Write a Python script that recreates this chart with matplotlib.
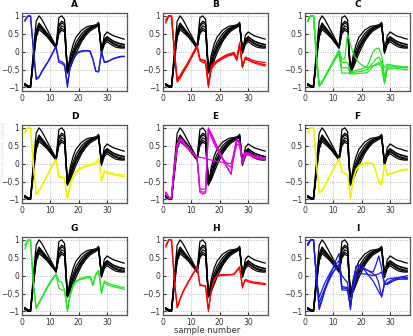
import numpy as np
import matplotlib
matplotlib.use("Agg")
import matplotlib.pyplot as plt

# sample numbers
x = np.arange(1, 37)

# reference (black) curves, shared by every panel
black_1 = [-0.90, -0.95, -0.95, 0.00, 0.85, 1.00, 0.90, 0.75, 0.60, 0.45, 0.30, 0.15, 0.95, 1.00, 0.90, -0.60, -0.10, 0.20, 0.40, 0.50, 0.60, 0.65, 0.70, 0.72, 0.73, 0.75, 0.80, 0.00, 0.45, 0.55, 0.50, 0.45, 0.42, 0.40, 0.37, 0.35]
black_2 = [-0.90, -0.95, -0.97, -0.10, 0.60, 0.80, 0.70, 0.60, 0.50, 0.38, 0.25, 0.12, 0.70, 0.80, 0.75, -0.55, -0.30, -0.05, 0.15, 0.30, 0.42, 0.52, 0.60, 0.66, 0.70, 0.72, 0.78, 0.05, 0.30, 0.40, 0.35, 0.30, 0.27, 0.24, 0.22, 0.20]
black_3 = [-0.92, -0.97, -1.00, -0.20, 0.50, 0.72, 0.65, 0.55, 0.45, 0.35, 0.22, 0.10, 0.55, 0.65, 0.60, -0.60, -0.40, -0.15, 0.05, 0.20, 0.33, 0.45, 0.55, 0.62, 0.67, 0.70, 0.75, 0.00, 0.25, 0.33, 0.28, 0.22, 0.18, 0.15, 0.13, 0.12]
black_4 = [-0.90, -0.98, -1.00, -0.30, 0.40, 0.62, 0.55, 0.48, 0.40, 0.30, 0.20, 0.10, 0.50, 0.60, 0.55, -0.58, -0.45, -0.25, -0.05, 0.12, 0.28, 0.40, 0.50, 0.58, 0.63, 0.68, 0.72, -0.05, 0.20, 0.28, 0.22, 0.17, 0.13, 0.11, 0.10, 0.10]
black_5 = [-0.95, -1.00, -0.98, -0.15, 0.55, 0.76, 0.68, 0.58, 0.48, 0.37, 0.24, 0.12, 0.75, 0.85, 0.80, -0.55, -0.20, 0.05, 0.25, 0.38, 0.50, 0.58, 0.64, 0.68, 0.71, 0.70, 0.82, 0.02, 0.35, 0.42, 0.36, 0.30, 0.26, 0.23, 0.21, 0.19]
black_6 = [-0.93, -0.97, -0.99, -0.25, 0.45, 0.68, 0.60, 0.52, 0.43, 0.33, 0.22, 0.11, 0.60, 0.72, 0.68, -0.57, -0.35, -0.10, 0.10, 0.25, 0.38, 0.48, 0.57, 0.64, 0.68, 0.71, 0.77, 0.03, 0.28, 0.36, 0.30, 0.25, 0.21, 0.18, 0.16, 0.15]

# panel A (blue)
a_1 = [0.88, 1.00, 1.00, 0.10, -0.75, -0.70, -0.55, -0.42, -0.30, -0.15, 0.00, 0.15, -0.25, -0.28, -0.35, -1.00, -0.40, -0.20, -0.08, 0.00, 0.02, 0.03, 0.03, 0.02, -0.20, -0.55, -0.55, 0.00, -0.28, -0.28, -0.24, -0.20, -0.17, -0.15, -0.13, -0.13]
a_2 = [0.85, 0.98, 1.00, 0.05, -0.78, -0.72, -0.57, -0.44, -0.31, -0.17, -0.02, 0.13, -0.30, -0.33, -0.40, -0.90, -0.42, -0.22, -0.10, -0.02, 0.00, 0.02, 0.02, 0.00, -0.22, -0.55, -0.57, -0.02, -0.30, -0.29, -0.25, -0.21, -0.18, -0.16, -0.14, -0.14]
# panel B (red)
b_1 = [0.80, 1.00, 1.00, 0.00, -0.80, -0.70, -0.57, -0.43, -0.30, -0.15, 0.00, 0.15, -0.22, -0.25, -0.28, -1.00, -0.45, -0.35, -0.28, -0.22, -0.17, -0.13, -0.10, -0.08, -0.05, -0.20, 0.20, -0.45, -0.15, -0.18, -0.22, -0.25, -0.27, -0.28, -0.30, -0.30]
b_2 = [0.90, 1.00, 1.00, -0.05, -0.85, -0.75, -0.60, -0.47, -0.33, -0.18, -0.03, 0.12, -0.25, -0.30, -0.32, -0.95, -0.50, -0.38, -0.30, -0.25, -0.20, -0.16, -0.12, -0.10, -0.08, -0.25, 0.15, -0.40, -0.18, -0.22, -0.26, -0.29, -0.31, -0.33, -0.35, -0.36]
b_3 = [0.85, 1.00, 0.98, 0.05, -0.78, -0.66, -0.53, -0.40, -0.27, -0.12, 0.03, 0.18, -0.20, -0.23, -0.25, -0.90, -0.40, -0.30, -0.25, -0.20, -0.15, -0.10, -0.07, -0.05, -0.02, -0.18, 0.25, -0.42, -0.20, -0.24, -0.28, -0.31, -0.34, -0.36, -0.38, -0.40]
# panel C (green)
c_1 = [0.85, 1.00, 1.00, -0.10, -0.95, -0.85, -0.70, -0.55, -0.40, -0.25, -0.10, 0.05, -0.20, -0.20, 0.50, 0.20, -0.05, -0.20, -0.30, -0.37, -0.42, -0.45, -0.42, -0.40, -0.38, -0.35, -0.30, -0.45, -0.35, -0.37, -0.38, -0.40, -0.40, -0.42, -0.43, -0.43]
c_2 = [0.90, 1.00, 1.00, -0.15, -0.97, -0.87, -0.72, -0.57, -0.42, -0.27, -0.12, 0.00, -0.30, -0.30, -0.30, -0.55, -0.55, -0.52, -0.50, -0.48, -0.45, -0.40, -0.20, 0.00, 0.08, 0.10, -0.10, -0.70, -0.40, -0.40, -0.41, -0.42, -0.43, -0.44, -0.45, -0.45]
c_3 = [0.85, 1.00, 1.00, -0.10, -0.93, -0.84, -0.70, -0.56, -0.42, -0.28, -0.15, -0.05, -0.45, -0.45, -0.45, -0.58, -0.58, -0.57, -0.56, -0.55, -0.52, -0.50, -0.40, -0.30, -0.20, -0.15, -0.30, -0.85, -0.45, -0.45, -0.46, -0.47, -0.48, -0.49, -0.50, -0.50]
c_4 = [0.88, 1.00, 1.00, -0.12, -0.95, -0.86, -0.72, -0.58, -0.44, -0.30, -0.17, -0.08, -0.60, -0.60, -0.60, -0.62, -0.62, -0.62, -0.61, -0.60, -0.60, -0.58, -0.50, -0.40, -0.35, -0.30, -0.45, -0.90, -0.50, -0.48, -0.47, -0.46, -0.45, -0.44, -0.43, -0.42]
# panel D (yellow)
d_1 = [0.85, 1.00, 1.00, 0.00, -0.85, -0.75, -0.60, -0.45, -0.30, -0.15, 0.00, 0.12, -0.35, -0.37, -0.38, -0.95, -0.55, -0.35, -0.22, -0.15, -0.10, -0.07, -0.04, -0.02, 0.00, 0.05, 0.15, -0.45, -0.20, -0.22, -0.25, -0.27, -0.29, -0.30, -0.31, -0.32]
d_2 = [0.90, 1.00, 1.00, -0.05, -0.87, -0.77, -0.63, -0.48, -0.33, -0.18, -0.03, 0.10, -0.38, -0.40, -0.42, -1.00, -0.60, -0.40, -0.27, -0.19, -0.14, -0.10, -0.07, -0.05, -0.03, 0.00, 0.10, -0.50, -0.24, -0.26, -0.29, -0.31, -0.33, -0.34, -0.35, -0.36]
# panel E (magenta)
e_1 = [-0.80, -0.95, -0.95, -0.10, 0.50, 0.68, 0.60, 0.50, 0.42, 0.33, 0.25, 0.17, -0.75, -0.80, -0.78, 1.00, 0.85, 0.68, 0.50, 0.32, 0.15, 0.00, -0.15, -0.30, 0.30, 0.70, 0.60, 0.00, 0.30, 0.28, 0.24, 0.20, 0.18, 0.16, 0.15, 0.14]
e_2 = [-0.85, -0.97, -0.97, -0.15, 0.45, 0.65, 0.58, 0.49, 0.40, 0.32, 0.24, 0.16, -0.80, -0.85, -0.82, 0.95, 0.80, 0.62, 0.45, 0.28, 0.12, -0.03, -0.17, -0.28, 0.25, 0.65, 0.55, 0.02, 0.28, 0.26, 0.22, 0.19, 0.17, 0.15, 0.14, 0.13]
e_3 = [-0.80, -0.93, -0.95, -0.05, 0.55, 0.72, 0.64, 0.54, 0.45, 0.36, 0.27, 0.18, 0.18, 0.16, 0.15, 0.12, 0.10, 0.08, 0.06, 0.05, 0.03, 0.02, 0.01, 0.00, 0.30, 0.68, 0.60, 0.05, 0.32, 0.30, 0.26, 0.22, 0.20, 0.18, 0.17, 0.16]
e_4 = [-0.82, -0.95, -0.96, -0.12, 0.50, 0.66, 0.59, 0.50, 0.41, 0.33, 0.25, 0.17, -0.70, -0.72, -0.70, 0.95, 0.75, 0.55, 0.40, 0.27, 0.15, 0.05, -0.05, -0.10, 0.20, 0.55, 0.50, 0.00, 0.25, 0.24, 0.21, 0.18, 0.15, 0.13, 0.12, 0.11]
# panel F (yellow)
f_1 = [0.85, 1.00, 1.00, 0.05, -0.80, -0.75, -0.60, -0.45, -0.30, -0.15, 0.00, 0.15, -0.20, -0.25, -0.30, -0.95, -0.40, -0.15, -0.05, 0.00, 0.02, 0.03, 0.02, 0.00, -0.20, -0.55, -0.60, -0.02, -0.30, -0.28, -0.25, -0.22, -0.20, -0.18, -0.16, -0.15]
f_2 = [0.90, 1.00, 1.00, 0.00, -0.82, -0.77, -0.62, -0.47, -0.32, -0.17, -0.02, 0.12, -0.25, -0.28, -0.33, -1.00, -0.45, -0.20, -0.08, -0.03, 0.00, 0.00, 0.00, -0.02, -0.22, -0.50, -0.55, -0.05, -0.33, -0.30, -0.27, -0.24, -0.22, -0.20, -0.18, -0.17]
# panel G (green)
g_1 = [0.75, 0.95, 1.00, -0.20, -0.90, -0.75, -0.60, -0.45, -0.30, -0.17, -0.05, 0.05, -0.15, -0.18, -0.40, -1.00, -0.50, -0.25, -0.15, -0.10, -0.07, -0.05, -0.03, -0.02, -0.25, 0.05, 0.15, -0.50, -0.15, -0.20, -0.23, -0.26, -0.28, -0.30, -0.32, -0.33]
g_2 = [0.85, 1.00, 1.00, -0.25, -0.92, -0.78, -0.63, -0.48, -0.33, -0.20, -0.08, 0.02, -0.35, -0.40, -0.42, -0.95, -0.55, -0.30, -0.18, -0.13, -0.10, -0.08, -0.06, -0.05, -0.28, 0.00, 0.12, -0.45, -0.20, -0.25, -0.28, -0.30, -0.32, -0.34, -0.36, -0.38]
# panel H (red)
h_1 = [0.80, 1.00, 1.00, -0.10, -0.90, -0.65, -0.45, -0.30, -0.15, -0.02, 0.12, 0.25, -0.28, -0.28, -0.30, -1.00, -0.40, -0.10, 0.00, 0.02, 0.03, 0.03, 0.03, 0.03, 0.05, 0.15, 0.25, -0.35, -0.10, -0.14, -0.16, -0.18, -0.19, -0.20, -0.21, -0.22]
h_2 = [0.85, 1.00, 1.00, -0.15, -0.88, -0.67, -0.47, -0.32, -0.17, -0.04, 0.10, 0.28, -0.25, -0.27, -0.28, -0.95, -0.45, -0.12, -0.03, 0.00, 0.01, 0.01, 0.02, 0.02, 0.03, 0.12, 0.22, -0.30, -0.13, -0.17, -0.19, -0.21, -0.22, -0.23, -0.24, -0.25]
# panel I (blue)
i_1 = [0.85, 1.00, 1.00, 0.00, -0.95, -0.70, -0.40, -0.15, 0.05, 0.25, 0.45, 0.62, -0.35, -0.35, -0.38, -0.90, -0.20, 0.25, 0.28, 0.25, 0.20, 0.15, 0.10, 0.05, 0.00, -0.20, -0.60, -0.20, -0.25, -0.20, -0.15, -0.10, -0.08, -0.05, -0.05, -0.05]
i_2 = [0.90, 1.00, 1.00, -0.05, -0.60, -0.40, -0.20, -0.05, 0.10, 0.22, 0.33, 0.42, -0.40, -0.40, -0.42, -0.85, -0.30, 0.10, 0.18, 0.20, 0.18, 0.15, 0.12, 0.10, 0.30, 0.55, 0.20, -0.25, -0.20, -0.15, -0.10, -0.08, -0.05, -0.03, -0.02, 0.00]
i_3 = [0.85, 1.00, 1.00, 0.00, -0.90, -0.65, -0.42, -0.22, -0.05, 0.10, 0.22, 0.32, -0.30, -0.32, -0.33, -0.80, -0.35, -0.05, 0.05, 0.05, 0.05, 0.03, 0.02, 0.00, 0.02, 0.05, 0.10, -0.20, -0.10, -0.08, -0.07, -0.06, -0.06, -0.06, -0.07, -0.08]
i_4 = [0.88, 1.00, 1.00, -0.05, -0.75, -0.55, -0.35, -0.17, 0.00, 0.12, 0.22, 0.28, 0.00, -0.10, -0.20, -0.95, -0.25, 0.25, 0.30, 0.25, 0.15, 0.05, -0.05, -0.15, -0.30, -0.45, -0.58, -0.25, -0.22, -0.18, -0.15, -0.12, -0.10, -0.10, -0.10, -0.10]

titles = ["A", "B", "C", "D", "E", "F", "G", "H", "I"]
blacks = [black_1, black_2, black_3, black_4, black_5, black_6]
colored = [[a_1, a_2], [b_1, b_2, b_3], [c_1, c_2, c_3, c_4],
           [d_1, d_2], [e_1, e_2, e_3, e_4], [f_1, f_2],
           [g_1, g_2], [h_1, h_2], [i_1, i_2, i_3, i_4]]
colors = ["#1a1ae6", "#ff0000", "#22e622", "#f2f200", "#e600e6",
          "#f2f200", "#22e622", "#ff0000", "#1a1ae6"]

fig = plt.figure(figsize=(4.14, 3.36), dpi=100)

lefts = [22 / 414, 163 / 414, 305 / 414]
bottoms = [1 - 91 / 336, 1 - 203 / 336, 1 - 315 / 336]
w = 105 / 414
h = 78 / 336

for k in range(9):
    r, c = divmod(k, 3)
    ax = fig.add_axes([lefts[c], bottoms[r], w, h])
    for yb in blacks:
        ax.plot(x, yb, color="black", lw=0.9)
    for yc in colored[k]:
        ax.plot(x, yc, color=colors[k], lw=0.9)
    ax.set_xlim(0, 37)
    ax.set_ylim(-1.1, 1.08)
    ax.set_xticks([0, 10, 20, 30])
    ax.set_yticks([-1, -0.5, 0, 0.5, 1])
    ax.set_yticklabels(["\u22121", "\u22120.5", "0", "0.5", "1"])
    ax.grid(True, linestyle=":", color="#aaaaaa", lw=0.6)
    ax.tick_params(direction="in", labelsize=5.5, length=2, colors="#333333",
                   pad=2)
    for s in ax.spines.values():
        s.set_color("#555555")
        s.set_linewidth(0.9)
    ax.set_title(titles[k], fontsize=6.5, fontweight="bold", pad=4)

fig.text(0.5, 0.003, "sample number", ha="center", va="bottom", fontsize=6,
         color="#333333")
# faint y label squeezed into the left margin
fig.text(0.002, 0.556, "normalized value", rotation=90, ha="left", va="center",
         fontsize=4.5, color="#dddddd")

fig.savefig("out.png", dpi=100)
